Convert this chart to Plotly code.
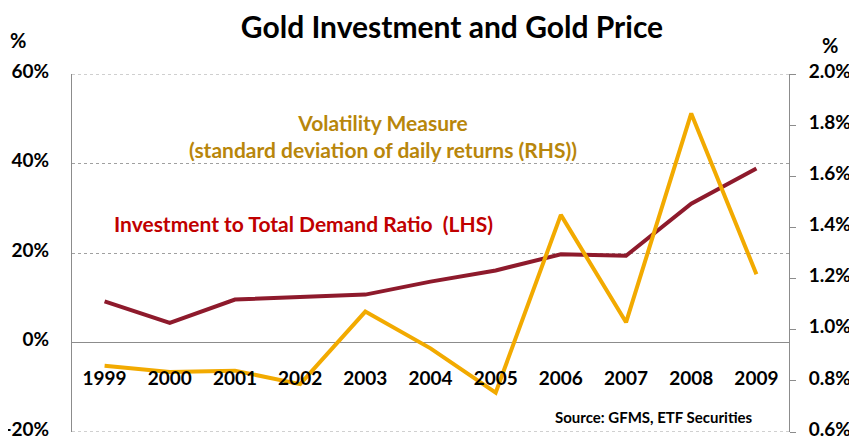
import plotly.graph_objects as go

years = ["1999", "2000", "2001", "2002", "2003", "2004", "2005", "2006", "2007", "2008", "2009"]
investment_ratio = [9.2, 4.4, 9.6, 10.2, 10.7, 13.6, 16.1, 19.7, 19.4, 31.0, 38.9]
volatility = [0.859, 0.835, 0.840, 0.787, 1.071, 0.927, 0.754, 1.449, 1.029, 1.846, 1.217]
left_ticks = [-20, 0, 20, 40, 60]
right_ticks = [0.6, 0.8, 1.0, 1.2, 1.4, 1.6, 1.8, 2.0]

FONT = "Lato"
RED = "#8E1A2C"
GOLD = "#F2AA00"
GRID = "#A0A0A0"

# the page body has an 8px default margin, so the figure is sized to fit the window
OFF = 8
W, H = 857 - OFF, 439 - OFF

fig = go.Figure()
fig.add_trace(go.Scatter(x=years, y=investment_ratio, mode="lines",
                         line=dict(color=RED, width=4), yaxis="y", xaxis="x",
                         name="Investment to Total Demand Ratio (LHS)"))
fig.add_trace(go.Scatter(x=years, y=volatility, mode="lines",
                         line=dict(color=GOLD, width=4), yaxis="y2", xaxis="x",
                         name="Volatility Measure"))

fig.update_layout(
    width=W, height=H,
    margin=dict(l=72 - OFF, r=68, t=74 - OFF, b=7, autoexpand=False),
    paper_bgcolor="white", plot_bgcolor="white",
    showlegend=False,
    font=dict(family=FONT, color="black"),
    title=dict(text="<b>Gold Investment and Gold Price</b>", x=(452 - OFF) / W, xanchor="center",
               y=1 - (27 - OFF) / H, yanchor="middle", font=dict(size=30, family=FONT, color="black")),
    xaxis=dict(type="category", anchor="free", position=89/358, showline=False,
               showgrid=False, zeroline=False, ticks="", ticklabelstandoff=22,
               automargin=False,
               tickfont=dict(size=19, family=FONT, color="black", weight="bold"),
               range=[-0.5, 10.5]),
    yaxis=dict(range=[-20, 60], tickvals=left_ticks,
               ticktext=[f"{v}%" for v in left_ticks],
               showline=True, linecolor="#8C8C8C", linewidth=1,
               showgrid=True, gridcolor=GRID, griddash="dot", gridwidth=1,
               zeroline=True, zerolinecolor="#8C8C8C", zerolinewidth=1,
               ticks="", ticklabelstandoff=18, automargin=False,
               ticklabeloverflow="allow", ticklabelshift=-3,
               tickfont=dict(size=19, family=FONT, color="black", weight="bold")),
    yaxis2=dict(range=[0.6, 2.0], tickvals=right_ticks,
                ticktext=[f"{v:.1f}%" for v in right_ticks],
                overlaying="y", side="right", anchor="x",
                showline=True, linecolor="#8C8C8C", linewidth=1,
                showgrid=False, zeroline=False,
                ticks="outside", ticklen=6, tickcolor="#8C8C8C",
                ticklabelstandoff=9, automargin=False,
                ticklabeloverflow="allow", ticklabelshift=-3,
                tickfont=dict(size=19, family=FONT, color="black", weight="bold")),
)

# dotted gridlines at the top and bottom of the left-axis range
for v in (left_ticks[0], left_ticks[-1]):
    fig.add_shape(type="line", xref="paper", yref="y", x0=0, x1=1, y0=v, y1=v,
                  line=dict(color=GRID, width=1, dash="dot"), layer="below")

fig.add_annotation(text="<b>%</b>", xref="paper", yref="paper", x=(18-72)/717, y=(432-40)/358,
                   xanchor="center", yanchor="middle", showarrow=False,
                   font=dict(size=20, family=FONT, color="black"))
fig.add_annotation(text="<b>%</b>", xref="paper", yref="paper", x=(830-72)/717, y=(432-45)/358,
                   xanchor="center", yanchor="middle", showarrow=False,
                   font=dict(size=20, family=FONT, color="black"))
fig.add_annotation(text="Volatility Measure<br>(standard deviation of daily returns (RHS))",
                   xref="paper", yref="paper", x=(383-72)/717, y=(432-136)/358,
                   xanchor="center", yanchor="middle", showarrow=False, align="center",
                   font=dict(size=21, family=FONT, color="#B8860B", weight="bold"))
fig.add_annotation(text="Investment to Total Demand Ratio  (LHS)",
                   xref="paper", yref="paper", x=(112-72)/717, y=(432-223)/358,
                   xanchor="left", yanchor="middle", showarrow=False,
                   font=dict(size=21, family=FONT, color="#C00000", weight="bold"))
fig.add_annotation(text="Source: GFMS, ETF Securities",
                   xref="paper", yref="paper", x=(755-72)/717, y=(432-417)/358,
                   xanchor="right", yanchor="middle", showarrow=False,
                   font=dict(size=15, family=FONT, color="black", weight="bold"))

fig.write_html("out.html")
